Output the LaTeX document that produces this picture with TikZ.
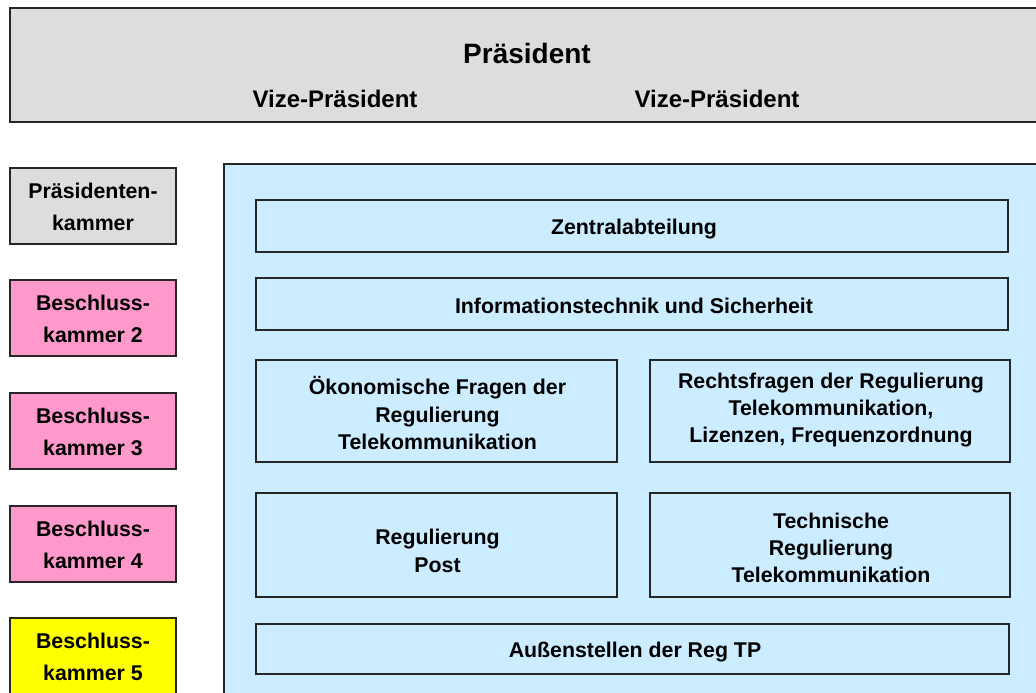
\documentclass[tikz,border=0pt]{standalone}
\usepackage{fontspec}
\setmainfont{Liberation Sans}
\definecolor{hgray}{HTML}{DDDDDD}
\definecolor{hblue}{HTML}{CCECFF}
\definecolor{hpink}{HTML}{FF99CC}
\definecolor{hyellow}{HTML}{FFFF00}
\begin{document}
\begin{tikzpicture}[x=0.75pt,y=-0.75pt,
  box/.style={draw=black!85,line width=1.5pt,rectangle,inner sep=0pt},
  side/.style={box,minimum width=166*0.75pt,minimum height=76*0.75pt},
  inner/.style={box,fill=hblue},
  txt/.style={inner sep=0pt,align=center,font=\bfseries\fontsize{16}{20.5}\selectfont},
  stxt/.style={inner sep=0pt,align=center,font=\bfseries\fontsize{16}{24}\selectfont},
  lbl/.style={inner sep=0pt,font=\bfseries\fontsize{18}{22}\selectfont}]
\useasboundingbox (0,0) rectangle (1036,693);
\clip (0,0) rectangle (1036,693);
\fill[white] (0,0) rectangle (1036,693);
% top box
\node[box,fill=hgray,minimum width=1036*0.75pt,minimum height=114*0.75pt] (top) at (528,65) {};
\node[lbl,font=\bfseries\fontsize{21}{24}\selectfont] (pres) at (527,53) {Präsident};
\node[lbl] (vp1) at (335,99) {Vize-Präsident};
\node[lbl] (vp2) at (717,99) {Vize-Präsident};
% blue area
\node[box,fill=hblue,minimum width=822*0.75pt,minimum height=539*0.75pt] (area) at (635,433.5) {};
% side boxes
\node[side,fill=hgray] (pk) at (93,206) {};
\node[stxt] (pkt) at (93,207) {Präsidenten-\\kammer};
\node[side,fill=hpink] (bk2) at (93,318) {};
\node[stxt] (bk2t) at (93,319) {Beschluss-\\kammer 2};
\node[side,fill=hpink] (bk3) at (93,431) {};
\node[stxt] (bk3t) at (93,432) {Beschluss-\\kammer 3};
\node[side,fill=hpink] (bk4) at (93,544) {};
\node[stxt] (bk4t) at (93,545) {Beschluss-\\kammer 4};
\node[side,fill=hyellow,minimum height=90*0.75pt] (bk5) at (93,663) {};
\node[stxt] (bk5t) at (93,657) {Beschluss-\\kammer 5};
% inner boxes
\node[inner,minimum width=752*0.75pt,minimum height=52*0.75pt] (zen) at (632,226) {};
\node[txt] (zent) at (634,229) {Zentralabteilung};
\node[inner,minimum width=752*0.75pt,minimum height=52*0.75pt] (info) at (632,304) {};
\node[txt] (infot) at (634,306) {Informationstechnik und Sicherheit};
\node[inner,minimum width=361*0.75pt,minimum height=102*0.75pt] (oek) at (436.5,411) {};
\node[txt] (oekt) at (437.5,413) {Ökonomische Fragen der\\Regulierung\\Telekommunikation};
\node[inner,minimum width=360*0.75pt,minimum height=102*0.75pt] (recht) at (830,411) {};
\node[txt] (rechtt) at (831,410) {Rechtsfragen der Regulierung\\Telekommunikation,\\Lizenzen, Frequenzordnung};
\node[inner,minimum width=361*0.75pt,minimum height=104*0.75pt] (post) at (436.5,545) {};
\node[txt] (postt) at (437.5,551) {Regulierung\\Post};
\node[inner,minimum width=360*0.75pt,minimum height=104*0.75pt] (tech) at (830,545) {};
\node[txt] (techt) at (831,548) {Technische\\Regulierung\\Telekommunikation};
\node[inner,minimum width=753*0.75pt,minimum height=50*0.75pt] (aus) at (632.5,649) {};
\node[txt] (aust) at (635,652) {Außenstellen der Reg TP};
\end{tikzpicture}
\end{document}
